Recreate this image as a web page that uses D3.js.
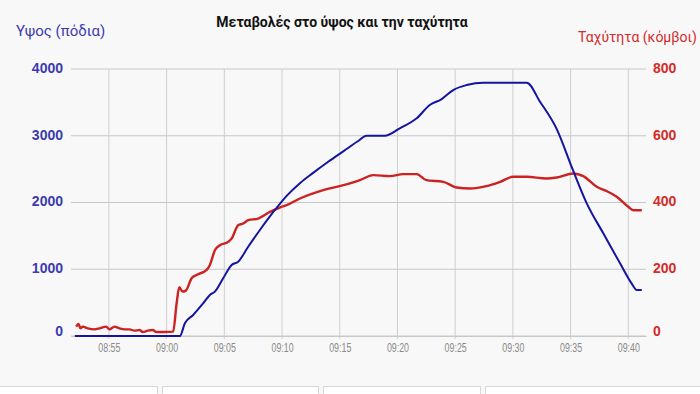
<!DOCTYPE html>
<html>
<head>
<meta charset="utf-8">
<script src="https://cdn.jsdelivr.net/npm/d3@7"></script>
<style>
    body { margin: 0; background: #f8f8f8; }
    svg { display: block; font-family: "Liberation Sans", Arial, sans-serif; }
</style>
</head>
<body>
<div id="chart"></div>
<script>
// Altitude (feet) and airspeed (knots) during climb / descent

const altTimes = ["08:52:03", "09:01:09", "09:01:35", "09:02:18", "09:03:10", "09:03:45", "09:04:11", "09:04:54",
    "09:05:38", "09:06:12", "09:07:04", "09:08:05", "09:09:23", "09:10:24", "09:11:33", "09:12:40", "09:14:00",
    "09:15:20", "09:16:30", "09:17:20", "09:18:54", "09:20:12", "09:21:40", "09:22:48", "09:23:48", "09:24:50",
    "09:26:00", "09:27:26", "09:31:12", "09:32:21", "09:33:48", "09:35:12", "09:36:24", "09:37:50", "09:39:17",
    "09:40:17", "09:40:44", "09:41:10"];
const altValues = [0, 0, 190, 315, 490, 615, 665, 865,
    1064, 1113, 1338, 1588, 1888, 2100, 2290, 2440, 2610,
    2770, 2910, 3000, 3000, 3111, 3261, 3461, 3546, 3685,
    3760, 3795, 3795, 3510, 3100, 2487, 1988, 1538, 1089,
    789, 689, 689];

const spdTimes = ["08:52:10", "08:52:22", "08:52:32", "08:52:44", "08:53:10", "08:53:45", "08:54:11", "08:54:46",
    "08:55:03", "08:55:29", "08:55:55", "08:56:21", "08:56:47", "08:57:13", "08:57:39", "08:57:56", "08:58:22",
    "08:58:48", "08:59:06", "08:59:48", "09:00:34", "09:00:52", "09:01:06", "09:01:23", "09:01:40", "09:02:10",
    "09:02:36", "09:03:28", "09:03:45", "09:04:11", "09:04:37", "09:05:20", "09:05:38", "09:06:12", "09:06:38",
    "09:07:04", "09:07:56", "09:08:57", "09:09:49", "09:10:24", "09:11:33", "09:13:34", "09:15:53", "09:16:45",
    "09:17:54", "09:19:21", "09:20:30", "09:21:40", "09:22:30", "09:23:58", "09:25:08", "09:26:17", "09:27:42",
    "09:28:54", "09:30:02", "09:31:12", "09:32:54", "09:33:48", "09:35:14", "09:36:06", "09:37:16", "09:38:08",
    "09:39:00", "09:40:00", "09:40:26", "09:41:10"];
const spdValues = [28, 36, 23, 28, 23, 20, 23, 28,
    20, 28, 23, 20, 20, 16, 18, 12, 16,
    18, 12, 12, 13, 98, 146, 133, 136, 173,
    183, 198, 213, 257, 272, 282, 292, 332, 337,
    347, 352, 372, 385, 392, 412, 437, 457, 467,
    482, 479, 485, 485, 467, 462, 445, 442, 449,
    462, 477, 477, 472, 475, 487, 479, 447, 434,
    417, 387, 377, 377];

const altTicks = [0, 1000, 2000, 3000, 4000];
const spdTicks = [0, 200, 400, 600, 800];
const timeTicks = ["08:55", "09:00", "09:05", "09:10", "09:15", "09:20", "09:25", "09:30", "09:35", "09:40"];

const title = "Μεταβολές στο ύψος και την ταχύτητα";
const altLabel = "Υψος (πόδια)";
const spdLabel = "Ταχύτητα (κόμβοι)";

const width = 700, height = 394;
const margin = { top: 69, right: 54, bottom: 58, left: 71 };

const parseTime = d3.timeParse("%H:%M:%S");

const altData = altTimes.map((t, i) => ({ t: parseTime(t), v: altValues[i] }));
const spdData = spdTimes.map((t, i) => ({ t: parseTime(t), v: spdValues[i] }));

const svg = d3.select('#chart')
    .append('svg')
    .attr('width', width)
    .attr('height', height);

svg.append('rect')
    .attr('width', width)
    .attr('height', height)
    .attr('fill', '#f8f8f8');

const x = d3.scaleTime()
    .domain([parseTime("08:51:43"), parseTime("09:41:32")])
    .range([margin.left, width - margin.right]);

const yAlt = d3.scaleLinear()
    .domain([0, 4000])
    .range([height - margin.bottom, margin.top]);

const ySpd = d3.scaleLinear()
    .domain([0, 800])
    .range([height - margin.bottom, margin.top]);

// grid
svg.append('g')
    .selectAll('line')
    .data(altTicks)
    .join('line')
    .attr('x1', margin.left)
    .attr('x2', width - margin.right)
    .attr('y1', d => yAlt(d))
    .attr('y2', d => yAlt(d))
    .attr('stroke', '#c8c8c8')
    .attr('stroke-width', 1);

const tickDates = timeTicks.map(t => parseTime(t + ":00"));

svg.append('g')
    .selectAll('line')
    .data(tickDates)
    .join('line')
    .attr('x1', d => x(d))
    .attr('x2', d => x(d))
    .attr('y1', margin.top)
    .attr('y2', height - margin.bottom + 3)
    .attr('stroke', '#cfcfcf')
    .attr('stroke-width', 1);

// x axis labels
const xAxis = svg.append('g')
    .attr('transform', `translate(0, ${height - margin.bottom})`)
    .call(d3.axisBottom(x)
        .tickValues(tickDates)
        .tickFormat(d3.timeFormat("%H:%M"))
        .tickSize(0)
        .tickPadding(7));
xAxis.select('.domain').attr('stroke', '#c8c8c8');
xAxis.selectAll('text')
    .attr('fill', '#8a8a8a')
    .attr('font-size', 13)
    .attr('font-family', '"Liberation Sans", Arial, sans-serif')
    .attr('transform', 'scale(0.68, 1)');

// left axis labels
svg.append('g')
    .selectAll('text')
    .data(altTicks)
    .join('text')
    .attr('x', 63)
    .attr('y', d => yAlt(d) - (d === 0 ? 5 : 1))
    .attr('dy', '0.35em')
    .attr('text-anchor', 'end')
    .attr('font-size', 14)
    .attr('font-weight', 'bold')
    .attr('fill', '#3b3bb0')
    .text(d => d);

// right axis labels
svg.append('g')
    .selectAll('text')
    .data(spdTicks)
    .join('text')
    .attr('x', 653)
    .attr('y', d => ySpd(d) - (d === 0 ? 5 : 1))
    .attr('dy', '0.35em')
    .attr('text-anchor', 'start')
    .attr('font-size', 14)
    .attr('font-weight', 'bold')
    .attr('fill', '#d42a2a')
    .text(d => d);

// lines
const altLine = d3.line()
    .x(d => x(d.t))
    .y(d => yAlt(d.v))
    .curve(d3.curveMonotoneX);

const spdLine = d3.line()
    .x(d => x(d.t))
    .y(d => ySpd(d.v))
    .curve(d3.curveMonotoneX);

svg.append('path')
    .datum(spdData)
    .attr('d', spdLine)
    .attr('fill', 'none')
    .attr('stroke', '#cc2222')
    .attr('stroke-width', 2.4)
    .attr('stroke-linejoin', 'round');

svg.append('path')
    .datum(altData)
    .attr('d', altLine)
    .attr('fill', 'none')
    .attr('stroke', '#1414a0')
    .attr('stroke-width', 2)
    .attr('stroke-linejoin', 'round');

// titles
svg.append('text')
    .attr('x', 342)
    .attr('y', 27)
    .attr('text-anchor', 'middle')
    .attr('font-size', 14)
    .attr('font-weight', 'bold')
    .attr('fill', '#111')
    .attr('font-family', 'Roboto, "Liberation Sans", sans-serif')
    .text(title);

svg.append('text')
    .attr('x', 16)
    .attr('y', 36)
    .attr('font-size', 15)
    .attr('fill', '#3b3bb0')
    .attr('font-family', 'Roboto, "Liberation Sans", sans-serif')
    .text(altLabel);

svg.append('text')
    .attr('x', 697)
    .attr('y', 42)
    .attr('text-anchor', 'end')
    .attr('font-size', 14)
    .attr('fill', '#d42a2a')
    .attr('font-family', 'Roboto, "Liberation Sans", sans-serif')
    .text(spdLabel);

// panels peeking in at the bottom
const panels = [[-5, 157], [162, 318], [323, 480], [485, 705]];
svg.append('g')
    .selectAll('rect')
    .data(panels)
    .join('rect')
    .attr('x', d => d[0] + 0.5)
    .attr('y', 386.5)
    .attr('width', d => d[1] - d[0])
    .attr('height', 20)
    .attr('fill', '#ffffff')
    .attr('stroke', '#d8d8d8');
</script>
</body>
</html>
